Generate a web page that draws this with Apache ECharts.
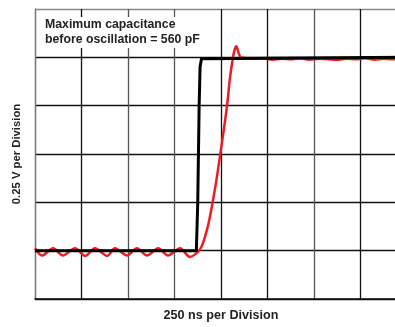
<!DOCTYPE html>
<html>
<head>
<meta charset="utf-8">
<script src="https://cdn.jsdelivr.net/npm/echarts@6/dist/echarts.min.js"></script>
<style>
html,body{margin:0;padding:0;background:#fff;overflow:hidden;width:395px;height:327px;}
#chart{width:407px;height:327px;}
</style>
</head>
<body>
<div id="chart"></div>
<script>
// Time in divisions (250 ns/div), voltage in divisions (0.25 V/div)
var redTime = [0.00,0.15,0.39,0.60,0.86,1.08,1.29,1.55,1.72,1.98,2.19,2.41,2.65,2.86,3.12,3.33,3.50,3.58,3.66,3.74,3.81,3.90,3.98,4.06,4.13,4.19,4.25,4.29,4.33,4.37,4.42,4.50,4.70,4.90,5.10,5.30,5.50,5.70,5.90,6.10,6.30,6.50,6.70,6.90,7.10,7.30,7.50,7.70,7.90,8.00];
var redVolt = [1.05,0.90,1.05,0.90,1.05,0.89,1.05,0.89,1.05,0.90,1.05,0.90,1.05,0.90,1.05,0.87,0.97,1.08,1.30,1.60,1.95,2.45,2.97,3.50,4.00,4.55,4.95,5.15,5.23,5.12,5.00,4.99,4.97,4.98,4.95,4.97,4.96,4.98,4.95,4.97,4.96,4.95,4.97,4.96,4.98,4.95,4.97,4.96,4.97,4.96];
var blackTime = [0.00,3.47,3.50,3.53,3.55,3.58,3.62,8.00];
var blackVolt = [1.00,1.00,2.00,4.00,4.80,4.97,5.00,5.00];
var xTitle = "250 ns per Division";
var yTitle = "0.25 V per Division";
var noteLines = ["Maximum capacitance", "before oscillation = 560 pF"];

function zip(a,b){var r=[];for(var i=0;i<a.length;i++)r.push([a[i],b[i]]);return r;}

var chart = echarts.init(document.getElementById('chart'), null, {renderer:'canvas', width:407, height:327});
var font = "'Liberation Sans', Arial, sans-serif";
chart.setOption({
  animation:false,
  backgroundColor:'#fff',
  grid:{left:35, top:9, right:0, bottom:25, show:false},
  xAxis:{
    type:'value', min:0, max:8, interval:1,
    name:xTitle, nameLocation:'middle', nameGap:10,
    nameTextStyle:{fontFamily:font, fontWeight:'bold', fontSize:12.6, color:'#222'},
    axisLine:{show:true, lineStyle:{color:'#111', width:1.5}},
    axisTick:{show:false}, axisLabel:{show:false},
    splitLine:{show:true, lineStyle:{color:['#777','#111','#555','#555','#111','#111','#555','#111','#111'], width:1.3}}
  },
  yAxis:{
    type:'value', min:0, max:6, interval:1,
    name:yTitle, nameLocation:'middle', nameGap:13,
    nameTextStyle:{fontFamily:font, fontWeight:'bold', fontSize:11.3, color:'#222'},
    axisLine:{show:true, lineStyle:{color:'#777', width:1.3}},
    axisTick:{show:false}, axisLabel:{show:false},
    splitLine:{show:true, lineStyle:{color:['#111','#111','#111','#111','#111','#111','#888'], width:1.3}}
  },
  graphic:[
    {type:'rect', left:40, top:17, shape:{width:168, height:31}, style:{fill:'#fff'}, z:10},
    {type:'text', left:45, top:17, z:11, style:{text:noteLines.join('\n'), font:'bold 12.3px '+font, fill:'#222', lineHeight:15}}
  ],
  series:[
    {type:'line', data:zip(redTime,redVolt), smooth:0.3, showSymbol:false,
     lineStyle:{color:'#ec1c24', width:2.5}, z:3},
    {type:'line', data:zip(blackTime,blackVolt), smooth:false, showSymbol:false,
     lineStyle:{color:'#000', width:3}, z:4}
  ]
});
</script>
</body>
</html>
